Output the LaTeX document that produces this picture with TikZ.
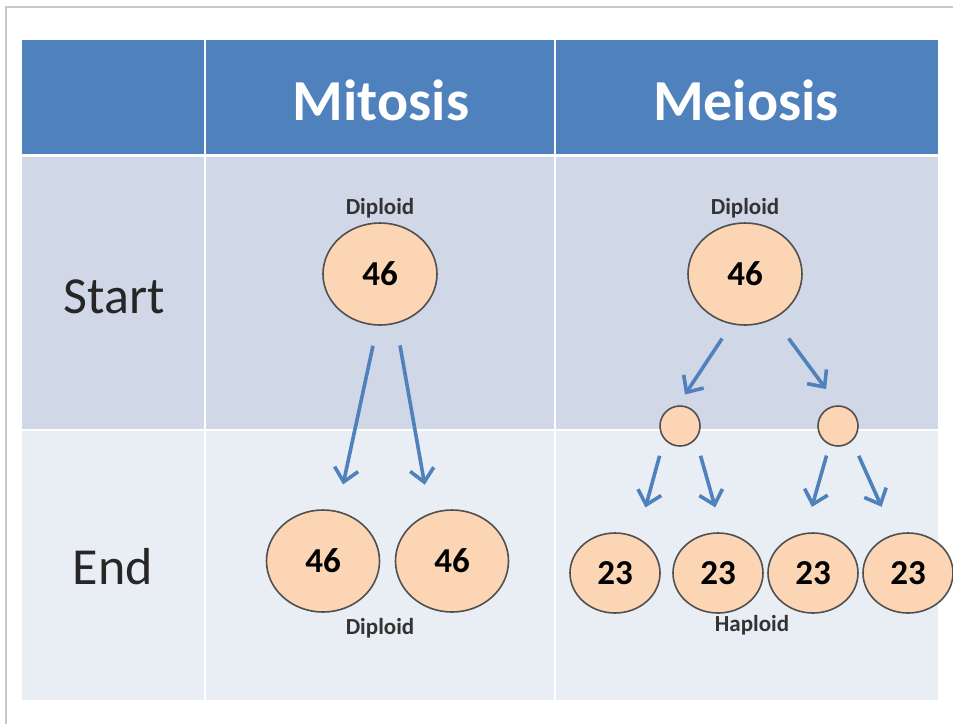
\documentclass[tikz,border=0pt]{standalone}
\usepackage{fontspec}
\setmainfont{Carlito}
\usetikzlibrary{arrows.meta,positioning,shapes.geometric}
\definecolor{hdr}{HTML}{4F81BD}
\definecolor{rowa}{HTML}{D0D8E8}
\definecolor{rowb}{HTML}{E9EDF4}
\definecolor{peach}{HTML}{FCD5B5}
\definecolor{rim}{HTML}{505050}
\tikzset{bigcell/.style={ellipse,draw=rim,line width=1.6pt,fill=peach,inner sep=0pt,minimum width=114pt,minimum height=102pt,font=\fontsize{35}{37}\selectfont\bfseries},
  endcell/.style={bigcell,minimum width=90pt,minimum height=80pt},
  midcell/.style={circle,draw=rim,line width=1.6pt,fill=peach,minimum size=40pt,inner sep=0pt},
  tag/.style={font=\fontsize{23}{25}\selectfont\bfseries,text=black!80},
  colhead/.style={font=\fontsize{58}{60}\selectfont\bfseries,text=white},
  rowhead/.style={font=\fontsize{52}{54}\selectfont,text=black!85},
  arr/.style={draw=hdr,line width=3.6pt,-{Straight Barb[length=13pt,width=24pt]}}}

\begin{document}
\begin{tikzpicture}[x=1pt,y=-1pt]
\useasboundingbox (0,0) rectangle (953,724);
\fill[white] (0,0) rectangle (953,724);
\draw[black!22,line width=1.5pt] (6,724) -- (6,7) -- (953,7);
% table
\fill[hdr] (22,40) rectangle (938,155);
\fill[rowa] (22,155) rectangle (938,430);
\fill[rowb] (22,430) rectangle (938,700);
\draw[white,line width=1.5pt] (205,40) -- (205,700) (555,40) -- (555,700);
\draw[white,line width=3pt] (22,155) -- (938,155);
\draw[white,line width=2pt] (22,430) -- (938,430);
\node[colhead] (mitosis) at (381,100) {Mitosis};
\node[colhead] (meiosis) at (746,100) {Meiosis};
\node[rowhead] (startlbl) at (114,297) {Start};
\node[rowhead] (endlbl) at (113,567) {End};
% mitosis
\node[bigcell] (mit) at (380,274) {46};
\node[tag,above=1pt of mit] (mittag) {Diploid};
\node[bigcell,minimum width=113pt] (mitA) at (323,561) {46};
\node[bigcell,minimum width=113pt] (mitB) at (452,561) {46};
\node[tag] (mitendtag) at (380,628) {Diploid};
\draw[arr,shorten <=20.5pt,shorten >=27pt] (mit.267) -- (mitA.74);
\draw[arr,shorten <=22pt,shorten >=29pt] (mit.288) -- (mitB.115);
% meiosis
\node[bigcell] (mei) at (745,274) {46};
\node[tag,above=1pt of mei] (meitag) {Diploid};
\node[midcell] (meiL) at (680,426) {};
\node[midcell] (meiR) at (838,426) {};
\node[endcell] (g1) at (615,573) {23};
\node[endcell] (g2) at (718,573) {23};
\node[endcell] (g3) at (813,573) {23};
\node[endcell] (g4) at (908,573) {23};
\node[tag] (haptag) at (752,625) {Haploid};
\draw[arr,shorten <=17pt,shorten >=13pt] (mei.255) -- (meiL.96);
\draw[arr,shorten <=24.5pt,shorten >=20pt] (mei.303) -- (meiR.north);
\draw[arr,shorten <=17pt,shorten >=31pt] (meiL.220) -- (g1.58);
\draw[arr,shorten <=17pt,shorten >=26pt] (meiL.320) -- (g2.84);
\draw[arr,shorten <=11pt,shorten >=27pt] (meiR.246) -- (g3.102);
\draw[arr,shorten <=16pt,shorten >=30pt] (meiR.313) -- (g4.110);
\end{tikzpicture}
\end{document}
